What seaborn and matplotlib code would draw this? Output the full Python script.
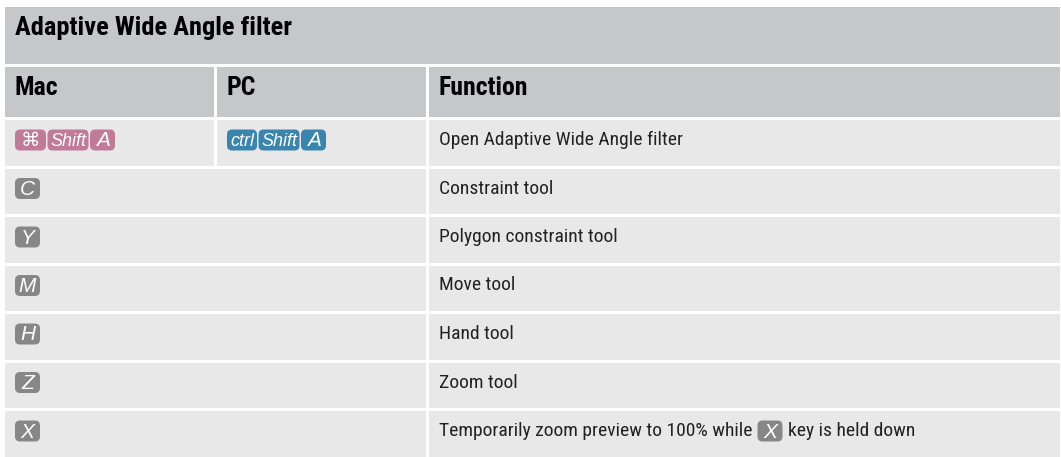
import matplotlib
matplotlib.use("Agg")
import matplotlib.pyplot as plt
import seaborn as sns
from matplotlib.patches import Rectangle, FancyBboxPatch
from matplotlib import font_manager

title = "Adaptive Wide Angle filter"
headers = ["Mac", "PC", "Function"]
mac_keys = [["⌘", "Shift", "A"], ["C"], ["Y"], ["M"], ["H"], ["Z"], ["X"]]
pc_keys = [["ctrl", "Shift", "A"], [], [], [], [], [], []]
functions = [
    "Open Adaptive Wide Angle filter",
    "Constraint tool",
    "Polygon constraint tool",
    "Move tool",
    "Hand tool",
    "Zoom tool",
    "Temporarily zoom preview to 100% while [X] key is held down",
]

# colours
head_bg = "#c6c7c9"
row_bg = "#e8e8e8"
mac_col = "#c07b98"
pc_col = "#3985ae"
gray_key = "#878787"

sns.set_style("white")
names = {f.name for f in font_manager.fontManager.ttflist}
narrow = [n for n in ["Roboto Condensed", "Liberation Sans Narrow", "Open Sans Condensed"] if n in names]
cond_font = narrow + ["Liberation Sans", "DejaVu Sans"]
key_font = ["Liberation Sans", "DejaVu Sans"]
plt.rcParams["font.family"] = cond_font

fig = plt.figure(figsize=(10.61, 4.57), dpi=100)
ax = fig.add_axes([0, 0, 1, 1])
ax.set_xlim(0, 1061)
ax.set_ylim(457, 0)
ax.axis("off")

# layout (pixels)
left, right, gap = 5, 1060, 3
col_x = [5, 217, 429]
col_w = [209, 209, 631]
title_top, title_h = 7, 57
head_top, head_h = title_top + title_h + gap, 50
body_h = 45.5
pad_x = 10

fig.canvas.draw()
renderer = fig.canvas.get_renderer()


def text_w(t):
    return t.get_window_extent(renderer=renderer).width


def draw_key(x, yc, label, color):
    if label in ("Shift", "ctrl"):
        fs, fam, st, minw = 13, key_font, "italic", 30
    elif label == "⌘":
        fs, fam, st, minw = 14, ["DejaVu Sans"], "normal", 31
    else:
        fs, fam, st, minw = 15, key_font, "italic", 25
    t = ax.text(0, yc + 1, label, color="white", fontsize=fs, style=st, family=fam,
                ha="center", va="center", zorder=4)
    w = max(minw, text_w(t) + 5)
    box = FancyBboxPatch((x, yc - 10.5), w, 21, boxstyle="round,pad=0,rounding_size=5",
                         fc=color, ec="none", zorder=3)
    ax.add_patch(box)
    t.set_x(x + w / 2)
    return x + w + 1.5


# title row
ax.add_patch(Rectangle((left, title_top), right - left, title_h, fc=head_bg, ec="none"))
ax.text(col_x[0] + pad_x, title_top + 21, title, fontsize=19, fontweight="bold",
        va="center", ha="left", color="black")

# header row
for cx, cw, h in zip(col_x, col_w, headers):
    ax.add_patch(Rectangle((cx, head_top), cw, head_h, fc=head_bg, ec="none"))
    ax.text(cx + pad_x, head_top + 21, h, fontsize=18.5, fontweight="bold",
            va="center", ha="left", color="black")

# body rows
y = head_top + head_h + gap
for mk, pk, fn in zip(mac_keys, pc_keys, functions):
    yc = y + 20
    if pk:
        ax.add_patch(Rectangle((col_x[0], y), col_w[0], body_h, fc=row_bg, ec="none"))
        ax.add_patch(Rectangle((col_x[1], y), col_w[1], body_h, fc=row_bg, ec="none"))
    else:
        ax.add_patch(Rectangle((col_x[0], y), col_x[1] + col_w[1] - col_x[0], body_h, fc=row_bg, ec="none"))
    ax.add_patch(Rectangle((col_x[2], y), col_w[2], body_h, fc=row_bg, ec="none"))

    kx = col_x[0] + pad_x
    for k in mk:
        kx = draw_key(kx, yc, k, mac_col if pk else gray_key)
    kx = col_x[1] + pad_x
    for k in pk:
        kx = draw_key(kx, yc, k, pc_col)

    tx = col_x[2] + pad_x
    if "[" in fn:
        before, rest = fn.split("[", 1)
        key, after = rest.split("]", 1)
        t = ax.text(tx, yc, before.rstrip(), fontsize=14,
                    va="center", ha="left", color="#222222")
        tx += text_w(t) + 5
        tx = draw_key(tx, yc, key, gray_key) + 4
        ax.text(tx, yc, after.strip(), fontsize=14,
                va="center", ha="left", color="#222222")
    else:
        ax.text(tx, yc, fn, fontsize=14, va="center", ha="left", color="#222222")
    y += body_h + gap

fig.savefig("out.png", dpi=100)
